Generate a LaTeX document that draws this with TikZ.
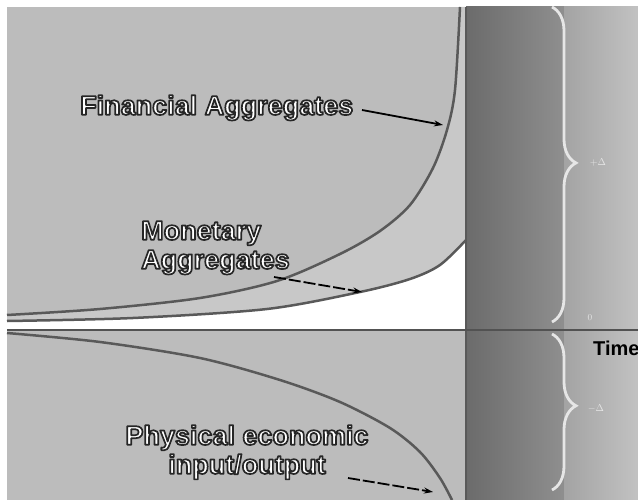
\documentclass[tikz,border=0pt]{standalone}
\usepackage{fontspec}
\setmainfont{Liberation Sans}
\usetikzlibrary{arrows.meta,decorations.pathreplacing,positioning}

\definecolor{fieldgray}{HTML}{BCBCBC}
\definecolor{gapgray}{HTML}{C8C8C8}
\definecolor{curvegray}{HTML}{595959}
\definecolor{bracegray}{HTML}{E6E6E6}

% white letters with a dark rim (text render mode 2)
\newcommand\outlined[1]{\textcolor{white}{\special{pdf:code 0.15 G 1.7 w 1 j 2 Tr}#1\special{pdf:code 0 Tr}}}

\begin{document}
\begin{tikzpicture}[x=1pt,y=-1pt,
  curve/.style={draw=curvegray, line width=2.5pt},
  pointer/.style={line width=1.8pt, -{Stealth[length=9pt,width=6pt]}},
  embossed/.style={font=\fontsize{27}{29}\selectfont\bfseries, inner sep=0pt},
  bracemark/.style={draw=bracegray, line width=2.8pt, decorate,
    decoration={brace, amplitude=24pt, aspect=#1}},
  deltalabel/.style={text=bracegray, font=\normalsize, inner sep=0pt}]
\clip (0,0) rectangle (638,500);
% plot field
\fill [fieldgray] (7,7) rectangle (466,500);
\fill [gapgray] plot[smooth] coordinates {(7,315) (100,309) (200,298) (277,281) (340,254) (380,231) (410,205) (433,168) (447,130) (455,90) (460,7)}
  -- (466,7) -- (466,330) -- (7,330) -- cycle;
\fill [white] plot[smooth] coordinates {(7,321) (133,318) (267,309) (360,292) (410,279) (440,265) (466,240)}
  -- (466,330) -- (7,330) -- cycle;
% curves
\draw [curve] plot[smooth] coordinates {(7,315) (100,309) (200,298) (277,281) (340,254) (380,231) (410,205) (433,168) (447,130) (455,90) (460,7)};
\draw [curve] plot[smooth] coordinates {(7,321) (133,318) (267,309) (360,292) (410,279) (440,265) (466,240)};
\draw [curve] plot[smooth] coordinates {(7,333) (100,342) (200,358) (280,380) (340,402) (390,428) (420,452) (440,478) (452,500)};
% time band
\shade [left color=black!58, right color=black!44] (466,7) rectangle (564,500);
\shade [left color=black!36, right color=black!24] (564,7) rectangle (638,500);
\draw [black!65, line width=1.2pt] (466,7) -- (466,500);
% axis
\coordinate (axisL) at (7,330);
\coordinate (axisR) at (638,330);
\draw [black!68, line width=2.6pt] (axisL) -- (axisR);
\node (timeLbl) [anchor=west, inner sep=0pt, font=\fontsize{20}{20}\selectfont\bfseries] at (593,348) {Time};
% braces
\coordinate (upTop) at (552,7);
\coordinate (upBot) at (552,322);
\coordinate (lowTop) at (552,334);
\coordinate (lowBot) at (552,490);
\draw [bracemark=0.495] (upTop) -- (upBot);
\draw [bracemark=0.46] (lowTop) -- (lowBot);
\node (plusLbl) [deltalabel] at (598,163) {$+\Delta$};
\node (zeroLbl) [deltalabel, font=\small] at (590,318) {$0$};
\node (minusLbl) [deltalabel] at (596,408) {$-\Delta$};
% labels
\node (finLbl) [embossed, anchor=north west] at (80,95) {\outlined{Financial Aggregates}};
\node (monLbl) [embossed, anchor=north west, align=left] at (141,221) {\outlined{Monetary}\\\outlined{Aggregates}};
\node (phyLbl) [embossed, anchor=north, align=center] at (247,425) {\outlined{Physical economic}\\\outlined{input/output}};
% pointers
\coordinate (finTail) at (362,110);
\coordinate (finTip) at (443,125);
\coordinate (monTail) at (274,277);
\coordinate (monTip) at (362,292);
\coordinate (phyTail) at (348,478);
\coordinate (phyTip) at (433,492);
\draw [pointer] (finTail) -- (finTip);
\draw [pointer, dash pattern=on 12pt off 3pt] (monTail) -- (monTip);
\draw [pointer, dash pattern=on 12pt off 3pt] (phyTail) -- (phyTip);
\end{tikzpicture}
\end{document}
